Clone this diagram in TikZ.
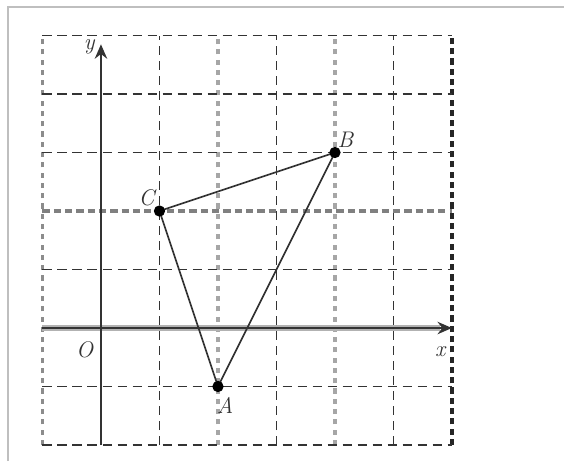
\documentclass[tikz,border=0pt]{standalone}
\usetikzlibrary{arrows.meta}
\begin{document}
\begin{tikzpicture}[
  gridline/.style={black!80, line width=0.8pt, dash pattern=on 4.5pt off 2.8pt},
  graygrid/.style={black!35, line width=1.8pt, dash pattern=on 2.5pt off 2.5pt},
  axisline/.style={black!80, line width=1.4pt, -{Stealth[length=7pt,width=6pt,open]}},
  tri/.style={black!80, line width=0.8pt},
  dot/.style={circle, fill=black, inner sep=0pt, minimum size=5.5pt},
  lab/.style={font=\fontsize{11}{12}\selectfont\itshape, inner sep=1pt, text=black!80}
]
\useasboundingbox (-1.726,-2.274) rectangle (7.915,5.607);
\fill[white] (-1.726,-2.274) rectangle (7.915,5.607);
% outer frame (top and left)
\draw[black!25, line width=1pt] (-1.59,-2.274) -- (-1.59,5.487) -- (7.915,5.487);
% grid
\foreach \x in {1,3,5} \draw[gridline] (\x,-2) -- (\x,5);
\foreach \x in {2,4} \draw[graygrid] (\x,-2) -- (\x,5);
\draw[black!45, line width=1.3pt, dash pattern=on 2.5pt off 2.5pt] (-1,-2) -- (-1,5);
\draw[black!85, line width=1.7pt, dash pattern=on 3pt off 2pt] (6,-2) -- (6,5);
\foreach \y in {-2,-1,1,3,4,5} \draw[gridline] (-1,\y) -- (6,\y);
\draw[black!50, line width=1.8pt, dash pattern=on 3.5pt off 2pt] (-1,2) -- (6,2);
% axes
\draw[black!30, line width=3.2pt] (-1,0) -- (5.8,0);
\draw[axisline] (-1,0) -- (6,0);
\draw[axisline] (0,-2) -- (0,4.85);
% labels
\node[lab] (ly) at (-0.2,4.8) {y};
\node[lab] (lx) at (5.8,-0.4) {x};
\node[lab] (lo) at (-0.28,-0.38) {O};
% triangle
\coordinate (A) at (2,-1);
\coordinate (B) at (4,3);
\coordinate (C) at (1,2);
\draw[tri] (A) -- (B) -- (C) -- cycle;
\node[dot] (dA) at (A) {};
\node[dot] (dB) at (B) {};
\node[dot] (dC) at (C) {};
\node[lab] (lA) at (2.12,-1.32) {A};
\node[lab] (lB) at (4.18,3.22) {B};
\node[lab] (lC) at (0.78,2.22) {C};
\end{tikzpicture}
\end{document}
